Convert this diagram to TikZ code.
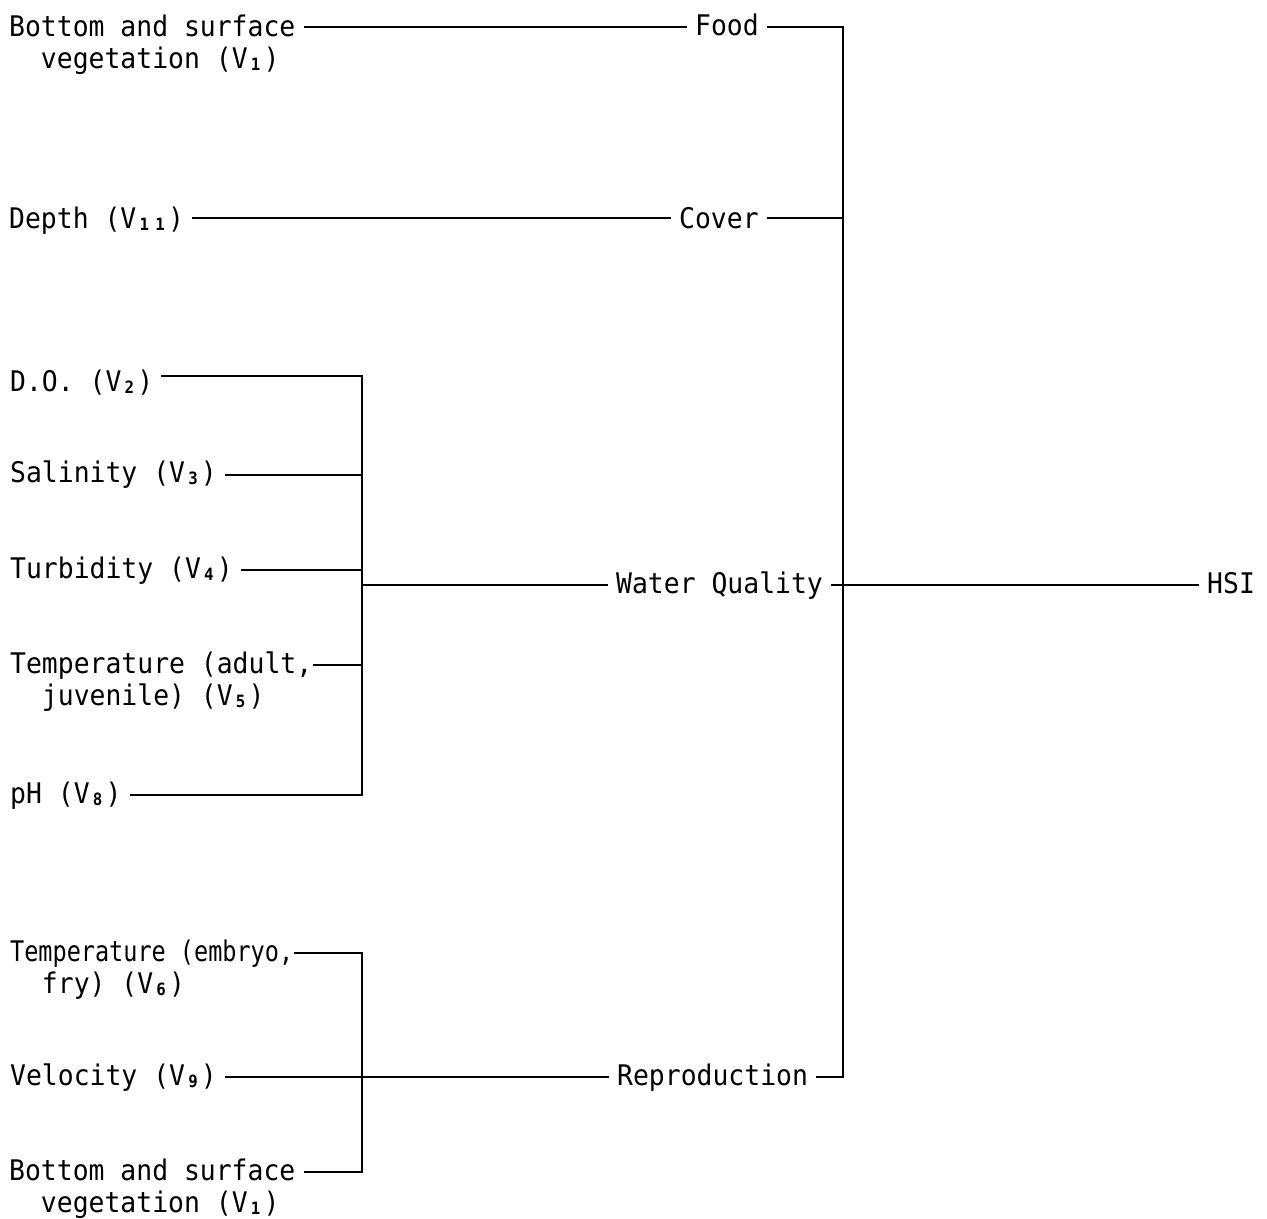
\documentclass[tikz,border=0pt]{standalone}
\usepackage{fontspec}
\setmainfont[FakeStretch=0.93]{DejaVu Sans Mono}
\newcommand\vsub[1]{\makebox[\fontcharwd\font`0]{\raisebox{-0.15ex}{\fontsize{17}{18}\selectfont\bfseries #1}}}
\begin{document}
\begin{tikzpicture}[x=1bp, y=-1bp,
  font=\fontsize{28.5}{32}\selectfont,
  lbl/.style={inner xsep=8bp, inner ysep=0pt, anchor=base west, align=left},
  ln/.style={line width=1.5bp},
  bus/.style={line width=2.4bp, line cap=rect}]
\useasboundingbox (0,0) rectangle (1267,1219);
% labels (two-line labels are placed by the baseline of their last line)
\node[lbl] (b1) at (1,68) {Bottom and surface\\\phantom{xx}vegetation (V\vsub{1})};
\node[lbl] (food) at (687,35) {Food};
\node[lbl] (depth) at (1,228) {Depth (V\vsub{1}\vsub{1})};
\node[lbl] (cover) at (671,228) {Cover};
\node[lbl] (do) at (2,391) {D.O. (V\vsub{2})};
\node[lbl] (sal) at (2,482) {Salinity (V\vsub{3})};
\node[lbl] (tur) at (2,578) {Turbidity (V\vsub{4})};
\node[lbl] (tad) at (2,705) {Temperature (adult,\\\phantom{xx}juvenile) (V\vsub{5})};
\node[lbl] (ph) at (2,803) {pH (V\vsub{8})};
\node[lbl] (wq) at (608,593) {Water Quality};
\node[lbl] (hsi) at (1199,593) {HSI};
\node[lbl] (temb) at (2,993) {\scalebox{0.89}[1]{Temperature (embryo,}\\\phantom{xx}fry) (V\vsub{6})};
\node[lbl] (vel) at (2,1085) {Velocity (V\vsub{9})};
\node[lbl] (bsv) at (1,1212) {Bottom and surface\\\phantom{xx}vegetation (V\vsub{1})};
\node[lbl] (rep) at (609,1085) {Reproduction};
% junctions
\coordinate (m1) at (843,27);
\coordinate (m2) at (843,218);
\coordinate (m3) at (843,585);
\coordinate (m4) at (843,1077);
\coordinate (w1) at (362,376);
\coordinate (w2) at (362,475);
\coordinate (w3) at (362,570);
\coordinate (wj) at (362,585);
\coordinate (w4) at (362,665);
\coordinate (w5) at (362,795);
\coordinate (r1) at (362,953);
\coordinate (r3) at (362,1172);
% connectors
\draw[ln] (b1.east |- m1) -- (food.west |- m1);
\draw[ln] (food.east |- m1) -- (m1);
\draw[ln] (depth.east |- m2) -- (cover.west |- m2);
\draw[ln] (cover.east |- m2) -- (m2);
\draw[ln] (wq.east |- m3) -- (hsi.west |- m3);
\draw[ln] (vel.east |- m4) -- (rep.west |- m4);
\draw[ln] (rep.east |- m4) -- (m4);
\draw[bus] (m1) -- (m4);
\draw[ln] (do.east |- w1) -- (w1);
\draw[ln] (sal.east |- w2) -- (w2);
\draw[ln] (tur.east |- w3) -- (w3);
\draw[ln] ([xshift=-7bp]tad.east |- w4) -- (w4);
\draw[ln] (ph.east |- w5) -- (w5);
\draw[ln] (wj) -- (wq.west |- wj);
\draw[bus] (w1) -- (w5);
\draw[ln] ([xshift=-7bp]temb.east |- r1) -- (r1);
\draw[ln] (bsv.east |- r3) -- (r3);
\draw[bus] (r1) -- (r3);
\end{tikzpicture}
\end{document}
